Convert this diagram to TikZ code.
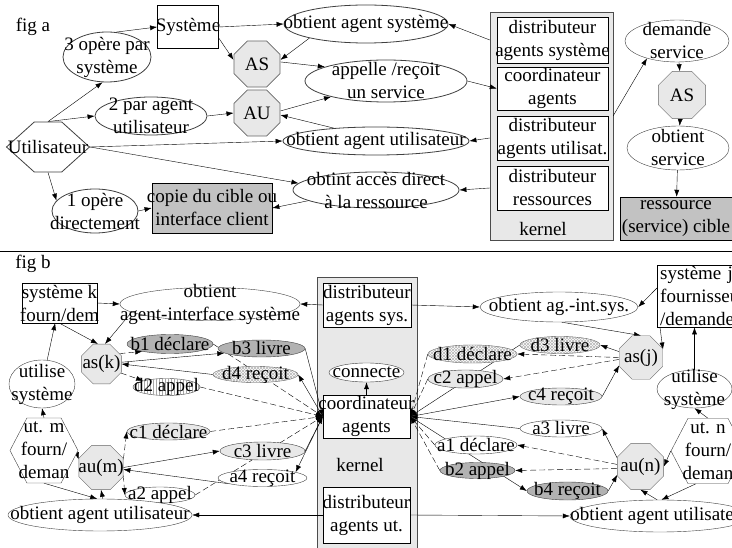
\documentclass[tikz,border=0pt]{standalone}
\usepackage{fontspec}
\setmainfont{Liberation Serif}
\usetikzlibrary{shapes.geometric,shapes.symbols,patterns,arrows.meta}
\definecolor{pale}{gray}{0.91}
\definecolor{mid}{gray}{0.76}
\definecolor{dark}{gray}{0.70}
\pgfdeclarelayer{panel}
\pgfdeclarelayer{lines}
\pgfsetlayers{panel,lines,main}
\tikzset{
  wh/.style 2 args={minimum width=#1pt, minimum height=#2pt},
  txt/.style={label={[align=center,inner sep=0pt]center:#1}},
  box/.style={draw, fill=white, inner sep=0pt, align=center},
  gbox/.style={box, fill=mid},
  pnl/.style={draw=black!70, fill=pale, inner sep=0pt},
  ell/.style={ellipse, draw=black!75, fill=white, inner sep=0pt},
  bfill/.style={fill=dark},
  cfill/.style={fill=pale},
  dfill/.style={fill=white, postaction={pattern=north east lines, pattern color=gray!55},
    postaction={pattern=north west lines, pattern color=gray!55}},
  vfill/.style={fill=white, postaction={pattern=vertical lines, pattern color=gray!70}},
  oct/.style={regular polygon, regular polygon sides=8, minimum size=#1pt,
    draw=black!60, fill=pale, inner sep=0pt},
  hexa/.style={signal, signal to=east and west, signal pointer angle=#1,
    draw=black!75, fill=white, inner sep=0pt},
  dsh/.style={->, dash pattern=on 6pt off 3pt}
}
\begin{document}
\begin{tikzpicture}[x=1pt, y=-1pt, font=\fontsize{19}{23}\selectfont, line width=0.8pt]
\tikzset{>={Latex[length=7pt,width=5pt]}}
\useasboundingbox (0,0) rectangle (732,548);

\node (figa) at (33,27) {fig a};
\node[box, wh={61}{43}, txt=Système] (sys) at (188,27) {};
\node[ell, wh={88}{50}, txt={3 opère par\\système}] (op3) at (107,57) {};
\node[ell, wh={112}{38}, txt={2 par agent\\utilisateur}] (par2) at (151,116) {};
\node[hexa=84, wh={83}{50}, txt=Utilisateur] (util) at (48,147) {};
\node[ell, wh={86}{44}, txt={1 opère\\directement}] (op1) at (95,211) {};
\node[gbox, wh={120}{50}, txt={copie du cible ou\\interface client}] (copie) at (212,208) {};
\node[oct=50, txt=AS] (asA) at (257,64) {};
\node[oct=50, txt=AU] (auA) at (257,113) {};
\node[ell, wh={164}{38}, txt={obtient agent système}] (oas) at (366,24) {};
\node[ell, wh={162}{42}, txt={appelle /reçoit\\un service}] (app) at (386,81) {};
\node[ell, wh={186}{28}, txt={obtient agent utilisateur}] (oau) at (376,141) {};
\node[ell, wh={166}{36}, txt={obtint accès direct\\à la ressource}] (acc) at (376,190) {};
\begin{pgfonlayer}{panel}
\node[pnl, wh={123}{228}] (kerA) at (551.5,126) {};
\node[pnl, wh={100}{272}] (kerB) at (367,413) {};
\end{pgfonlayer}
\node[box, wh={111}{46}, txt={distributeur\\agents système}] (dsys) at (552.5,40) {};
\node[box, wh={111}{43}, txt={coordinateur\\agents}] (coord) at (552.5,88.5) {};
\node[box, wh={111}{44}, txt={distributeur\\agents utilisat.}] (dut) at (552.5,138) {};
\node[box, wh={111}{44}, txt={distributeur\\ressources}] (dres) at (552.5,188) {};
\node (kernA) at (543,229) {kernel};
\node[ell, wh={104}{42}, txt={demande\\service}] (dem) at (677,41) {};
\node[oct=51, txt=AS] (asB) at (682,95) {};
\node[ell, wh={102}{44}, txt={obtient\\service}] (osv) at (678,148) {};
\node[gbox, wh={112}{43}, txt={ressource\\(service) cible}] (res) at (676,218.5) {};

\draw (0,251) -- (732,251);

\node (figb) at (33,264) {fig b};
\node[box, wh={75}{40}, txt={système k\\fourn/dem}] (sysk) at (59.5,303) {};
\node[ell, wh={180}{33}, txt={obtient\\agent-interface système}] (oais) at (210,304) {};
\node[ell, wh={66}{48}, txt={utilise\\système}] (usek) at (42,384) {};
\node[oct=43, txt=as(k)] (ask) at (101.5,364) {};
\node[ell, bfill, wh={86}{19}, txt={b1 déclare}] (b1) at (170,344) {};
\node[ell, bfill, wh={87}{17}, txt={b3 livre}] (b3) at (261.5,348.5) {};
\node[ell, dfill, wh={85}{16}, txt={d4 reçoit}] (d4) at (255.5,374.5) {};
\node[ell, vfill, wh={67}{17}, txt={d2 appel}] (d2) at (166.5,387) {};
\node[ell, cfill, wh={83}{17}, txt={c1 déclare}] (c1) at (168.5,431.5) {};
\node[ell, cfill, wh={85}{18}, txt={c3 livre}] (c3) at (262.5,451) {};
\node[ell, wh={89}{17}, txt={a4 reçoit}] (a4) at (262.5,478) {};
\node[ell, wh={70}{16}, txt={a2 appel}] (a2) at (160,495) {};
\node[oct=48, txt=au(m)] (aum) at (101,467.5) {};
\node[hexa=125, wh={68}{65}, txt={ut. m\\fourn/\\deman}] (utm) at (44,450.5) {};
\node[ell, wh={184}{32}, txt={obtient agent utilisateur}] (oaum) at (100,515) {};
\node[box, wh={88}{44}, txt={distributeur\\agents sys.}] (dsysb) at (367,305) {};
\node[ell, wh={75}{19}, txt=connecte] (conn) at (366.5,372.5) {};
\node[box, wh={87}{43}, txt={coordinateur\\agents}] (coordb) at (366.5,416.5) {};
\node (kernB) at (360,465) {kernel};
\node[box, wh={87}{56}, txt={distributeur\\agents ut.}] (dutb) at (366.5,515) {};
\node[box, anchor=north west, text width=87pt, inner xsep=3pt, minimum height=62pt,
  align=left] (sysj) at (657,265) {système j\\fournisseur\\/demandeur};
\node[ell, wh={158}{30}, txt={obtient ag.-int.sys.}] (oaij) at (559,307) {};
\node[oct=47, txt=as(j)] (asj) at (641,357.5) {};
\node[ell, dfill, wh={80}{17}, txt={d3 livre}] (d3) at (560,345) {};
\node[ell, dfill, wh={89}{18}, txt={d1 déclare}] (d1) at (472.5,354) {};
\node[ell, cfill, wh={75}{18}, txt={c2 appel}] (c2) at (465.5,379) {};
\node[ell, cfill, wh={82}{17}, txt={c4 reçoit}] (c4) at (561,396.5) {};
\node[ell, wh={82}{18}, txt={a1 déclare}] (a1) at (476,445) {};
\node[ell, bfill, wh={75}{16}, txt={b2 appel}] (b2) at (477.5,470.5) {};
\node[ell, wh={82}{17}, txt={a3 livre}] (a3) at (561,428.5) {};
\node[ell, bfill, wh={81}{18}, txt={b4 reçoit}] (b4) at (567.5,491) {};
\node[oct=50, txt=au(n)] (aun) at (640.5,466.5) {};
\node[hexa=125, wh={74}{65}, txt={ut. n\\fourn/\\deman}] (utn) at (708,451) {};
\node[ell, wh={75}{38}, txt={utilise\\système}] (usej) at (694.5,389) {};
\node[ell, wh={180}{32}, txt={obtient agent utilisateur}] (oaun) at (660,516) {};

\begin{pgfonlayer}{lines}
\draw[->] (util.north) -- (op3.260);
\draw[->] (util.north) -- (par2.west);
\draw[->] (util.south) -- (op1.165);
\draw[->] (op3.70) -- (sys.west);
\draw[->] (sys.-20) -- (asA.170);
\draw[->] (sys.east) -- (oas.west);
\draw[->] (oas.194) -- (asA.10);
\draw[->] (asA.5) -- (app.167);
\draw[->] (auA.5) -- (app.196);
\draw[->] (oau.163) -- (auA.-5);
\draw[->] (par2.east) -- (auA.west);
\draw[->] (util.east) -- (oau.west);
\draw[->] (util.east) -- (acc.175);
\draw[->] (op1.east) -- (copie.west);
\draw[->] (acc.189) -- (copie.east);
\draw[->] (app.east) -- (coord.west);
\draw[->] (kerA.west |- dsys.west) -- (oas.east);
\draw[->] (kerA.west |- dut.west) -- (oau.east);
\draw[->] (kerA.west |- dres.west) -- (acc.east);
\draw[->] (kerA.east |- dut.north) -- (dem.210);
\draw[->] (dem) -- (asB);
\draw[->] (asB) -- (osv);
\draw[->] (osv) -- (res);

\draw[->] (sysk.east) -- (oais.west);
\draw[->] (sysk.south) -- (ask.100);
\draw[->] (oais.186) -- (ask.80);
\draw[->] (usek) -- (sysk);
\draw[->] (utm.north) -- (usek.south);
\draw[->] (utm.20) -- (aum.160);
\draw[->] (utm.south) -- (oaum.100);
\draw[->] (oaum.80) -- (aum.south);
\draw[->] (dsysb.west) -- (oais.east);
\draw[->] (dsysb.east) -- (oaij.west);
\draw[->] (coordb.north) -- (conn.south);
\draw[->] (dutb.west) -- (oaum.east);
\draw[->] (dutb.east) -- (oaun.west);
\draw[->] (sysj.170) -- (oaij.east);
\draw[->] (oaij.-80) -- (asj.north);
\draw[->] ([xshift=3pt]sysj.south west) -- (asj.20);
\draw[->] (usej.north) -- (usej.north |- sysj.south);
\draw[->] (utn.north) -- (usej.south);
\draw[->] (utn.west) -- (aun.east);
\draw[->] (utn.250) -- (oaun.85);
\draw[->] (oaun.100) -- (aun.south);

\draw[dsh] (ask.30) -- (b1.195);
\draw[dsh] (ask.-25) -- (d2.165);
\draw[->] (ask.5) -- (b3.187);
\draw[->] (d4.west) -- (ask.east);
\draw[dsh] (b1.east) -- (coordb.west);
\draw[dsh] (d2.east) -- (coordb.west);
\draw[->] (b3.east) -- (coordb.west);
\draw[->] (coordb.west) -- (d4.east);
\draw[dsh] (aum.20) -- (c1.west);
\draw[dsh] (aum.-20) -- (a2.west);
\draw[->] (aum.east) -- (c3.west);
\draw[->] (a4.190) -- (aum.-5);
\draw[dsh] (c1.east) -- (coordb.west);
\draw[dsh] (a2.east) -- (coordb.west);
\draw[->] (c3.east) -- (coordb.west);
\draw[->] (coordb.west) -- (a4.10);

\draw[dsh] (asj.west) -- (d1.east);
\draw[dsh] (asj.185) -- (c2.east);
\draw[->] (asj.165) -- (d3.east);
\draw[->] (c4.east) -- (asj.200);
\draw[dsh] (d1.west) -- (coordb.east);
\draw[dsh] (c2.west) -- (coordb.east);
\draw[->] (d3.west) -- (coordb.east);
\draw[->] (coordb.east) -- (c4.west);
\draw[dsh] (aun.175) -- (a1.east);
\draw[dsh] (aun.185) -- (b2.east);
\draw[->] (aun.160) -- (a3.east);
\draw[->] (b4.east) -- (aun.200);
\draw[dsh] (a1.west) -- (coordb.east);
\draw[dsh] (b2.west) -- (coordb.east);
\draw[->] (a3.west) -- (coordb.east);
\draw[->] (coordb.east) -- (b4.west);
\end{pgfonlayer}
\end{tikzpicture}
\end{document}
